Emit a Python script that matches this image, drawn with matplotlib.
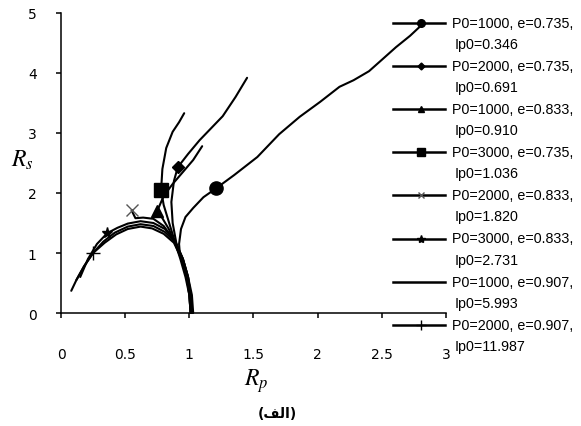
import matplotlib
matplotlib.use('Agg')
from matplotlib import pyplot as plt
from matplotlib.lines import Line2D

# Data (R_p on x, R_s on y)

circle_x = [1.02, 1.01, 0.99, 0.95, 0.925, 0.92, 0.935, 0.97, 1.03, 1.11, 1.21, 1.35, 1.53, 1.70, 1.86, 2.02, 2.17, 2.28, 2.40, 2.50, 2.61, 2.72, 2.82]
circle_y = [0.00, 0.30, 0.60, 0.90, 1.02, 1.15, 1.40, 1.60, 1.75, 1.93, 2.08, 2.30, 2.60, 2.98, 3.27, 3.52, 3.77, 3.88, 4.03, 4.22, 4.43, 4.62, 4.82]

diamond_x = [1.01, 1.00, 0.98, 0.94, 0.90, 0.87, 0.86, 0.88, 0.91, 0.99, 1.08, 1.17, 1.26, 1.36, 1.45]
diamond_y = [0.00, 0.30, 0.60, 0.90, 1.15, 1.50, 1.85, 2.20, 2.43, 2.65, 2.88, 3.08, 3.28, 3.60, 3.92]

triangle_x = [1.02, 1.01, 0.98, 0.94, 0.89, 0.84, 0.79, 0.75, 0.80, 0.87, 0.95, 1.03, 1.10]
triangle_y = [0.00, 0.30, 0.60, 0.90, 1.15, 1.40, 1.58, 1.70, 1.95, 2.15, 2.35, 2.55, 2.78]

square_x = [1.01, 1.00, 0.97, 0.93, 0.90, 0.85, 0.80, 0.78, 0.79, 0.82, 0.87, 0.92, 0.96]
square_y = [0.00, 0.30, 0.60, 0.90, 1.10, 1.45, 1.80, 2.05, 2.40, 2.75, 3.02, 3.18, 3.33]

cross_x = [1.02, 1.01, 0.98, 0.94, 0.88, 0.80, 0.72, 0.64, 0.58, 0.55]
cross_y = [0.00, 0.30, 0.60, 0.90, 1.22, 1.45, 1.57, 1.59, 1.58, 1.71]

star_x = [1.03, 1.02, 0.99, 0.95, 0.89, 0.81, 0.72, 0.62, 0.52, 0.44, 0.36, 0.28, 0.21, 0.15]
star_y = [0.00, 0.30, 0.60, 0.90, 1.20, 1.40, 1.50, 1.53, 1.49, 1.42, 1.33, 1.15, 0.90, 0.60]

plain_x = [1.02, 1.01, 0.99, 0.95, 0.89, 0.81, 0.72, 0.62, 0.52, 0.42, 0.33, 0.25, 0.18, 0.12, 0.08]
plain_y = [0.00, 0.30, 0.60, 0.90, 1.18, 1.35, 1.45, 1.48, 1.44, 1.34, 1.19, 1.00, 0.78, 0.55, 0.37]

plus_x = [1.01, 1.00, 0.98, 0.94, 0.88, 0.80, 0.71, 0.62, 0.52, 0.43, 0.34, 0.25, 0.18, 0.12]
plus_y = [0.00, 0.30, 0.60, 0.90, 1.17, 1.32, 1.41, 1.44, 1.40, 1.31, 1.17, 1.00, 0.78, 0.55]

labels_1 = ['P0=1000, e=0.735,', 'P0=2000, e=0.735,', 'P0=1000, e=0.833,', 'P0=3000, e=0.735,',
            'P0=2000, e=0.833,', 'P0=3000, e=0.833,', 'P0=1000, e=0.907,', 'P0=2000, e=0.907,']
labels_2 = ['Ip0=0.346', 'Ip0=0.691', 'Ip0=0.910', 'Ip0=1.036',
            'Ip0=1.820', 'Ip0=2.731', 'Ip0=5.993', 'Ip0=11.987']

xticks = [0, 0.5, 1, 1.5, 2, 2.5, 3]
yticks = [0, 1, 2, 3, 4, 5]


series = [
    (circle_x, circle_y, 'o', 9.5, 10, 5.5),
    (diamond_x, diamond_y, 'D', 6.5, 8, 3.5),
    (triangle_x, triangle_y, '^', 8, 7, 5),
    (square_x, square_y, 's', 10, 7, 6),
    (cross_x, cross_y, 'x', 9, 9, 5),
    (star_x, star_y, '*', 8, 10, 6),
    (plain_x, plain_y, 'None', 1, 0, 1),
    (plus_x, plus_y, '+', 10, 11, 7),
]

plt.rcParams['mathtext.fontset'] = 'stix'

fig = plt.figure(figsize=(5.81, 4.27), dpi=100)
ax = fig.add_axes([61 / 581, 1 - 314 / 427, 385 / 581, 300 / 427])

for xs, ys, mk, ms, idx, lms in series:
    mcolor = '#555555' if mk == 'x' else 'black'
    ax.plot(xs, ys, color='black', lw=1.5, marker=mk, ms=ms, markevery=[idx] if mk != 'None' else None,
            mfc='black', mec=mcolor, mew=1.0,
            solid_capstyle='round', solid_joinstyle='round', clip_on=False)

ax.set_xlim(0, 3)
ax.set_ylim(0, 5)
ax.set_xticks(xticks)
ax.set_xticklabels([f'{t:g}' for t in xticks])
ax.set_yticks(yticks)
ax.set_yticklabels([str(t) for t in yticks])
for s in ['top', 'right']:
    ax.spines[s].set_visible(False)
for s in ['left', 'bottom']:
    ax.spines[s].set_linewidth(1.1)
ax.tick_params(axis='x', direction='out', length=3.5, width=1.1, pad=21, labelsize=10, colors='black')
ax.tick_params(axis='y', direction='out', length=3.5, width=1.1, pad=14, labelsize=10, colors='black')

fig.text(22 / 581, 1 - 160 / 427, r'$R_s$', fontsize=17, ha='center', va='center')
fig.text(256 / 581, 1 - 381 / 427, r'$R_p$', fontsize=17, ha='center', va='center')
# caption "(الف)" in visual order with joined forms
fig.text(277 / 581, 1 - 414 / 427, '(\ufed2\ufedf\u0627)', fontsize=10, fontweight='bold',
         family='DejaVu Sans', ha='center', va='center')

# Legend drawn by hand so the handle sits on the first text line
leg_font = ['Liberation Sans', 'DejaVu Sans']
for i, (xs, ys, mk, ms, idx, lms) in enumerate(series):
    y_px = 24 + 43.1 * i
    yf = 1 - y_px / 427
    mcolor = '#555555' if mk == 'x' else 'black'
    fig.add_artist(Line2D([393 / 581, 445 / 581], [yf, yf], color='black', lw=1.8,
                          transform=fig.transFigure))
    if mk != 'None':
        fig.add_artist(Line2D([421 / 581], [yf], marker=mk, ms=lms, color='black', mec=mcolor,
                              mfc='black', mew=1.0, transform=fig.transFigure))
    fig.text(452 / 581, yf, labels_1[i], fontsize=10.3, family=leg_font, ha='left', va='center')
    fig.text(455 / 581, 1 - (y_px + 21) / 427, labels_2[i], fontsize=10.3, family=leg_font,
             ha='left', va='center')

fig.savefig('out.png', dpi=100)
